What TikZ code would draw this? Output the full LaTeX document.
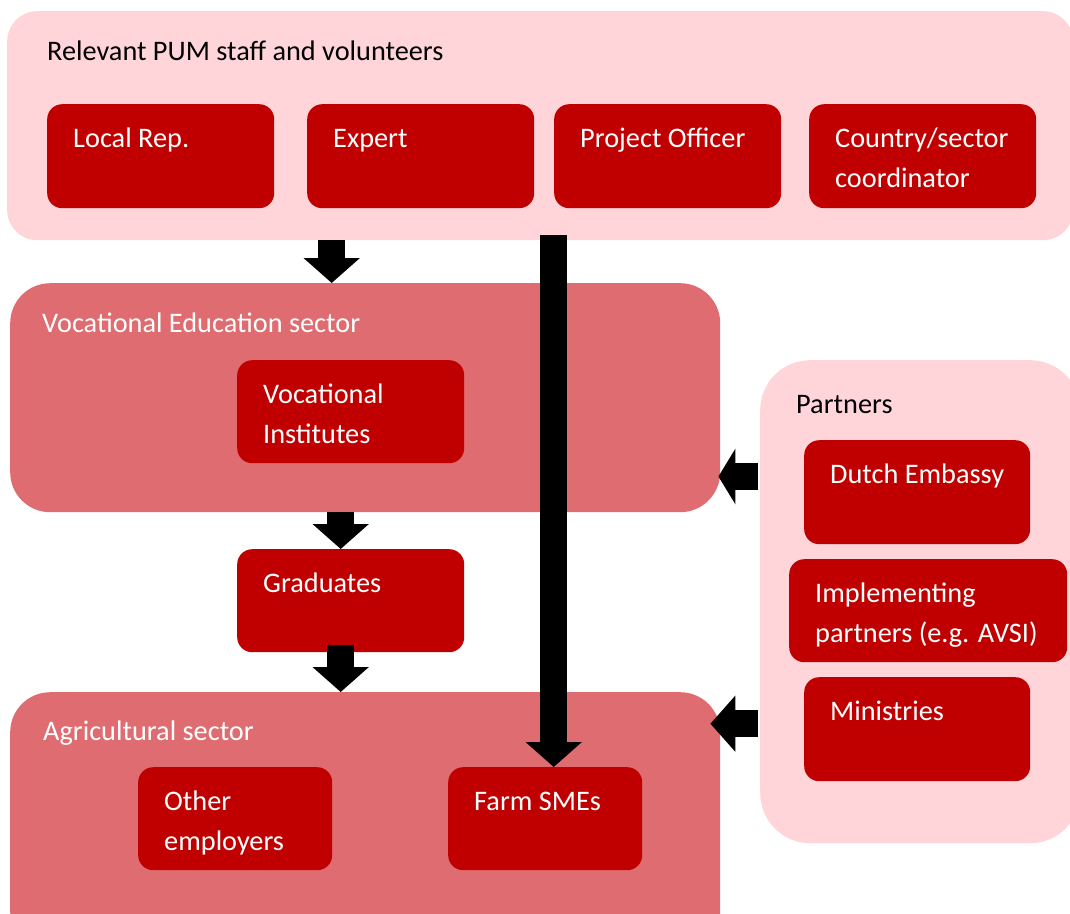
\documentclass[tikz,border=0pt]{standalone}
\usepackage{fontspec}
\setmainfont{Carlito}
\usetikzlibrary{arrows.meta}
\definecolor{ltpink}{HTML}{FFD5DA}
\definecolor{midred}{HTML}{DF6C70}
\definecolor{dkred}{HTML}{C00000}
% two stacked lines, baseline on the first one
\newcommand{\twolines}[2]{\vtop{\hbox{#1}\hbox{#2}}}

\begin{document}
\begin{tikzpicture}[x=1pt,y=-1pt,
    font=\fontsize{28.3}{40.5}\selectfont,
    panel/.style={anchor=north west,inner sep=0pt,rounded corners=#1},
    unit/.style={anchor=north west,inner sep=0pt,fill=dkred,rounded corners=15pt,
        minimum width=227pt,minimum height=104pt},
    hdr/.style={anchor=base west,inner sep=0pt},
    txt/.style={anchor=base west,inner sep=0pt,text=white},
    blk/.style={line width=27pt,-{Triangle[width=55pt,length=25pt]}}]
    \useasboundingbox (0,0) rectangle (1070,913);
    \clip (0,0) rectangle (1070,913);
    % outer panels
    \node[panel=30pt,fill=ltpink,minimum width=1066pt,minimum height=229pt] (staff) at (7,11) {};
    \node[panel=40pt,fill=midred,minimum width=710pt,minimum height=229pt] (vocsec) at (10,283) {};
    \node[panel=40pt,fill=midred,minimum width=710pt,minimum height=260pt] (agsec) at (10,692) {};
    \node[panel=50pt,fill=ltpink,minimum width=320pt,minimum height=483pt] (partners) at (760,360) {};
    \node[hdr] (staff-t) at ([shift={(40,49)}]staff.north west) {Relevant PUM staff and volunteers};
    \node[hdr,text=white] (vocsec-t) at ([shift={(32,49)}]vocsec.north west) {Vocational Education sector};
    \node[hdr,text=white] (agsec-t) at ([shift={(33,48)}]agsec.north west) {Agricultural sector};
    \node[hdr] (partners-t) at ([shift={(36,53)}]partners.north west) {Partners};
    % staff roles
    \node[unit] (lrep) at (47,104) {};
    \node[unit] (expert) at (307,104) {};
    \node[unit] (po) at (554,104) {};
    \node[unit] (coord) at (809,104) {};
    % sector actors
    \node[unit,minimum height=103pt] (inst) at (237,360) {};
    \node[unit,minimum height=103pt] (grad) at (237,549) {};
    \node[unit,minimum width=194pt,minimum height=103pt] (other) at (138,767) {};
    \node[unit,minimum width=194pt,minimum height=103pt] (farm) at (448,767) {};
    % partners
    \node[unit,minimum width=226pt] (embassy) at (804,440) {};
    \node[unit,minimum width=278pt,minimum height=103pt] (impl) at (789,559) {};
    \node[unit,minimum width=226pt] (mins) at (804,677) {};
    % box texts, first baseline 43pt below the top edge
    \foreach \n/\t in {lrep/Local Rep., expert/Expert, po/Project Officer,
        coord/{\twolines{Country/sector}{coordinator}},
        inst/{\twolines{Vocational}{Institutes}},
        grad/Graduates, other/{\twolines{Other}{employers}}, farm/Farm SMEs,
        embassy/Dutch Embassy,
        impl/{\twolines{Implementing}{partners (e.g. AVSI)}},
        mins/Ministries}
        \node[txt] (\n-t) at ([shift={(26,43)}]\n.north west) {\t};
    % block arrows
    \draw[blk] ([xshift=-19pt]inst.north |- staff.south) -- ([xshift=-19pt]inst.north |- vocsec.north);
    \draw[blk] ([xshift=-10pt]inst.south |- vocsec.south) -- ([xshift=-10pt]grad.north);
    \draw[blk] ([xshift=-10pt,yshift=7pt]grad.south) -- ([xshift=-10pt]grad.south |- agsec.north);
    \draw[blk] ([xshift=8.5pt,yshift=5pt]farm.north |- staff.south) -- ([xshift=8.5pt]farm.north);
    \draw[blk,-{Triangle[width=55pt,length=17pt]}] ([xshift=-2pt,yshift=-36.5pt]partners.west |- embassy.north) -- ([yshift=-36.5pt,xshift=-2pt]vocsec.east |- embassy.north);
    \draw[blk] ([xshift=-2pt,yshift=5.5pt]partners.west |- mins.center) -- ([xshift=-10pt,yshift=5.5pt]agsec.east |- mins.center);
\end{tikzpicture}
\end{document}
